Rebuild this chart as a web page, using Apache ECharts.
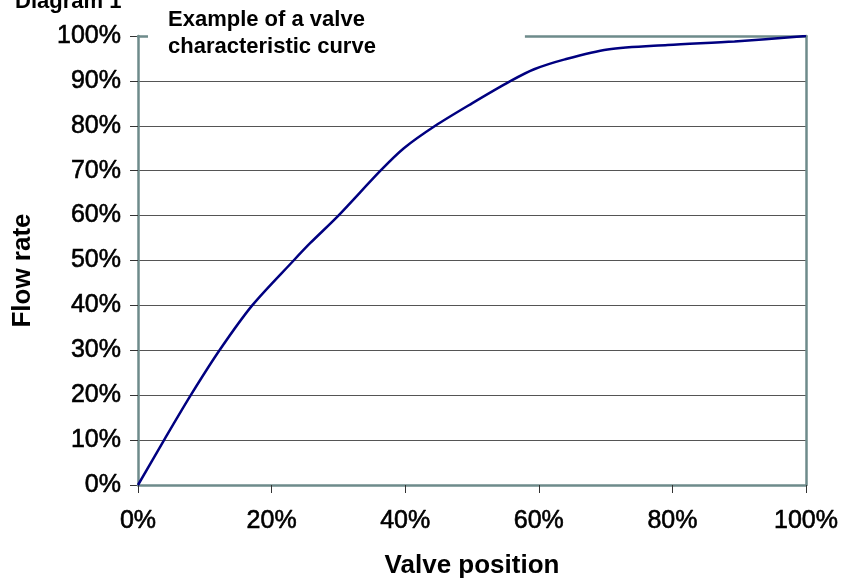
<!DOCTYPE html>
<html>
<head>
<meta charset="utf-8">
<script src="https://cdn.jsdelivr.net/npm/echarts@6/dist/echarts.min.js"></script>
<style>
  html, body { margin: 0; padding: 0; background: #fff; }
  #chart { width: 842px; height: 584px; }
</style>
</head>
<body>
<div id="chart"></div>
<script>
// valve characteristic (percent)
var valvePos = [0, 3.9, 7.9, 12.2, 17.1, 23.3, 25.8, 30.0, 36.3, 39.8, 44.5, 50.0, 55.8, 59.3, 63.9, 70.3, 79.3, 89.3, 100];
var flowRate = [0, 10, 20, 30, 40, 50, 53.9, 60, 70, 75, 80, 85, 90, 92.6, 94.8, 97.0, 98.0, 98.8, 100];

var points = [];
for (var i = 0; i < valvePos.length; ++i) {
    points.push([valvePos[i], flowRate[i]]);
}

var frameColor = '#6e8b8b';
var font = 'Liberation Sans, Arial, Helvetica, sans-serif';

var tickLabel = {
    formatter: '{value}%',
    fontFamily: font,
    fontSize: 25,
    color: '#000',
    textBorderColor: '#000',
    textBorderWidth: 0.6
};

// plain frame edge on the top / right side
function frameAxis(pos) {
    return {
        type: 'value',
        position: pos,
        min: 0,
        max: 100,
        axisLine: { show: true, onZero: false, lineStyle: { color: frameColor, width: 2.5 } },
        axisTick: { show: false },
        axisLabel: { show: false },
        splitLine: { show: false },
        z: 2
    };
}

var dom = document.getElementById('chart');
var myChart = echarts.init(dom);
var option = {
    animation: false,
    title: [
        {
            text: 'Diagram 1',
            left: 10,
            top: -14,
            textStyle: { fontFamily: font, fontSize: 22, fontWeight: 'bold', color: '#000' }
        },
        {
            text: 'Example of a valve\ncharacteristic curve',
            left: 148,
            top: 0,
            padding: [6, 149, 8, 20],
            backgroundColor: '#fff',
            textStyle: { fontFamily: font, fontSize: 22, fontWeight: 'bold', color: '#000', lineHeight: 27 }
        }
    ],
    grid: {
        left: 138,
        right: 36,
        top: 36,
        bottom: 98
    },
    xAxis: [
        {
            type: 'value',
            min: 0,
            max: 100,
            interval: 20,
            name: 'Valve position',
            nameLocation: 'middle',
            nameGap: 68,
            nameTextStyle: { fontFamily: font, fontSize: 26, fontWeight: 'bold', color: '#000' },
            axisLine: { show: true, onZero: false, lineStyle: { color: frameColor, width: 2.5 } },
            axisTick: { show: true, length: 8, lineStyle: { color: '#333' } },
            axisLabel: Object.assign({ margin: 24 }, tickLabel),
            splitLine: { show: false },
            z: 2
        },
        frameAxis('top')
    ],
    yAxis: [
        {
            type: 'value',
            min: 0,
            max: 100,
            interval: 10,
            name: 'Flow rate',
            nameLocation: 'middle',
            nameGap: 102,
            nameTextStyle: { fontFamily: font, fontSize: 26, fontWeight: 'bold', color: '#000', padding: [0, 20, 0, 0] },
            axisLine: { show: true, onZero: false, lineStyle: { color: frameColor, width: 2.5 } },
            axisTick: { show: true, length: 8, lineStyle: { color: '#333' } },
            axisLabel: Object.assign({ margin: 17 }, tickLabel),
            splitLine: { show: true, lineStyle: { color: '#555', width: 1 } },
            z: 1
        },
        frameAxis('right')
    ],
    series: [
        {
            type: 'line',
            data: points,
            smooth: 0.3,
            showSymbol: false,
            lineStyle: { color: '#000080', width: 2.5 },
            z: 3
        }
    ]
};
myChart.setOption(option, true);
</script>
</body>
</html>
